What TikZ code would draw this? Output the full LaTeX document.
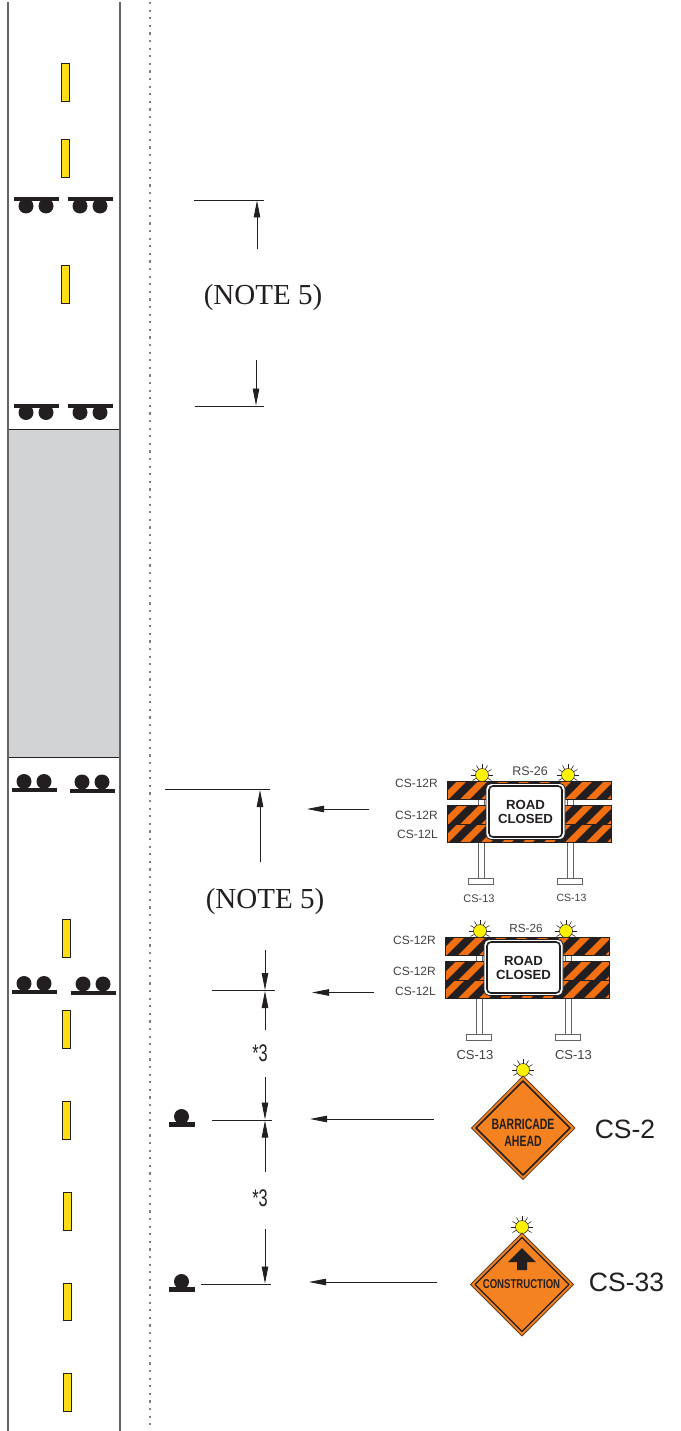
\documentclass[tikz,border=0pt]{standalone}
\usepackage{fontspec}
\setmainfont{Liberation Sans}
\newfontfamily\serifnote{Liberation Serif}
\usetikzlibrary{arrows.meta,calc}
\definecolor{roadline}{HTML}{636466}
\definecolor{dotline}{HTML}{808285}
\definecolor{dashyellow}{HTML}{FFDD15}
\definecolor{sgray}{HTML}{D1D3D4}
\definecolor{signorange}{HTML}{F58220}
\definecolor{barorange}{HTML}{F26F12}
\definecolor{ink}{HTML}{231F20}
\definecolor{lamp}{HTML}{FFF200}
\newcommand{\fsz}[1]{\fontsize{#1}{#1}\selectfont}
\tikzset{
  roadedge/.style={draw=roadline,line width=1.3pt},
  shoulder/.style={draw=dotline,line width=1.3pt,dash pattern=on 2.2pt off 5.4pt},
  yellowdash/.style={draw=ink,fill=dashyellow,line width=0.8pt},
  devbar/.style={fill=ink,draw=none},
  devdot/.style={fill=ink,draw=none},
  dimline/.style={draw=ink,line width=0.8pt},
  dimarrow/.style={draw=ink,line width=0.8pt,-{Triangle[length=17pt,width=6.5pt]}},
  note/.style={font=\serifnote\fsz{29},inner sep=0pt,text=ink},
  star/.style={font=\fsz{24},xscale=0.68,inner sep=0pt,text=ink,transform shape},
  small/.style={inner sep=0pt,text=ink!85},
  signname/.style={font=\fsz{26.5},inner sep=0pt,text=ink},
}
% horizontal barrier board with diagonal stripes: x1,y1,x2,y2
\newcommand{\board}[4]{%
  \fill[barorange] (#1,#2) rectangle (#3,#4);
  \begin{scope}
    \clip (#1,#2) rectangle (#3,#4);
    \foreach \k in {-2,...,9} {
      \fill[ink] ({#1+\k*21+2},#4) -- ({#1+\k*21+13},#4) -- ({#1+\k*21+13+(#4-#2)},#2) -- ({#1+\k*21+2+(#4-#2)},#2) -- cycle;
    }
  \end{scope}
  \draw[ink,line width=0.8pt] (#1,#2) rectangle (#3,#4);
}
% warning lamp at x,y
\newcommand{\lampat}[2]{%
  \foreach \a in {30,0,-30,-60,-90,-120,-150,180,150} {
    \draw[ink,line width=0.55pt] ($(#1,#2)+(\a:6)$) -- ($(#1,#2)+(\a:11)$);
  }
  \fill[lamp,draw=ink,line width=0.5pt] (#1,#2) circle[radius=6.5pt];
}
% barricade assembly with offset
\newcommand{\barricade}[2]{%
  \begin{scope}[shift={(#1,#2)}]
    \foreach \px in {478,567} {
      \fill[white,draw=roadline,line width=0.8pt] (\px,799) rectangle ++(6,79);
    }
    \fill[white,draw=roadline,line width=0.8pt] (468,878) rectangle (493,884);
    \fill[white,draw=roadline,line width=0.8pt] (557.5,878) rectangle (582.5,884);
    \board{447}{781}{611}{799}
    \board{447}{805}{611}{824}
    \board{447}{824}{611}{842}
    \fill[white,draw=ink,line width=0.8pt,rounded corners=5pt] (486,783.5) rectangle (565,839.5);
    \draw[ink,line width=1.6pt,rounded corners=4pt] (489,786) rectangle (562,837);
    \node[inner sep=0pt,align=center,font=\bfseries\fsz{13.2},text=ink] (roadclosed#1) at (525.5,812) {ROAD\\[1.5pt]CLOSED};
    \lampat{482}{775}
    \lampat{568}{775}
  \end{scope}
}
\begin{document}
\begin{tikzpicture}[x=1pt,y=-1pt]
\useasboundingbox (0,0) rectangle (680,1431);
\fill[white] (0,0) rectangle (680,1431);

% road
\fill[sgray] (8,429) rectangle (120,757);
\draw[ink,line width=1pt] (8,429) rectangle (120,757);
\draw[roadedge] (8,2) -- (8,1431);
\draw[roadedge] (120,2) -- (120,1431);
\draw[shoulder] (150,2) -- (150,1431);

% yellow dashes
\foreach \dx/\dy/\dh in {61/63/38,61/139/38,61/265/38,62/919/38,62/1010/38,62.5/1101/38,63/1192/38,63/1283/37,63.5/1373/38} {
  \draw[yellowdash] (\dx,\dy) rectangle ++(8,\dh);
}

% top device groups (bar above lamps)
\foreach \gy in {197,403.5} {
  \fill[devbar] (14,\gy) rectangle ++(45,4);
  \fill[devbar] (68,\gy) rectangle ++(45,4);
  \foreach \cx in {26,46,80,100} {
    \fill[devdot] (\cx,\gy+9) circle[radius=7.5pt];
  }
}
% lower device groups (bar below lamps)
\foreach \bx/\gy in {12/788,70/788.5,12/990,71/990.5} {
  \fill[devbar] (\bx,\gy) rectangle ++(45,4);
  \fill[devdot] (\bx+12,\gy-6.5) circle[radius=7.5pt];
  \fill[devdot] (\bx+32,\gy-6.5) circle[radius=7.5pt];
}
% single devices
\foreach \gy in {1122,1287} {
  \fill[devbar] (169,\gy) rectangle ++(26,5);
  \fill[devdot] (181.5,\gy-5.5) circle[radius=7.5pt];
}

% extension lines
\coordinate (e1a) at (194,200);  \coordinate (e1b) at (264,200);
\coordinate (e2a) at (195,406);  \coordinate (e2b) at (264,406);
\coordinate (e3a) at (165,789.5);\coordinate (e3b) at (270,789.5);
\coordinate (e4a) at (212,990.5);\coordinate (e4b) at (275,990.5);
\coordinate (e5a) at (212,1120); \coordinate (e5b) at (272,1120);
\coordinate (e6a) at (201,1284); \coordinate (e6b) at (271,1284);
\foreach \i in {1,...,6} { \draw[dimline] (e\i a) -- (e\i b); }

% dimension arrows
\coordinate (d1) at (257,249);  \coordinate (d1t) at (257,200.5);
\coordinate (d2) at (256,360);  \coordinate (d2t) at (256,405.5);
\coordinate (d3) at (260,862);  \coordinate (d3t) at (260,790);
\coordinate (d4) at (265,950);  \coordinate (d4t) at (265,990);
\coordinate (d5) at (265,1030); \coordinate (d5t) at (265,991);
\coordinate (d6) at (265,1077); \coordinate (d6t) at (265,1119.5);
\coordinate (d7) at (265,1172); \coordinate (d7t) at (265,1120.5);
\coordinate (d8) at (265,1229); \coordinate (d8t) at (265,1283.5);
\foreach \i in {1,...,8} { \draw[dimarrow] (d\i) -- (d\i t); }

% pointer arrows
\coordinate (p1) at (369,809);  \coordinate (p1t) at (307,809);
\coordinate (p2) at (374,992.5);\coordinate (p2t) at (312,992.5);
\coordinate (p3) at (434,1119); \coordinate (p3t) at (310,1119);
\coordinate (p4) at (437,1282); \coordinate (p4t) at (309,1282);
\foreach \i in {1,...,4} { \draw[dimarrow] (p\i) -- (p\i t); }

% notes
\node[note] (n1) at (263,298) {(NOTE 5)};
\node[note] (n2) at (265,902) {(NOTE 5)};
\node[star] (s1) at (260,1053) {*3};
\node[star] (s2) at (260,1198) {*3};

% barricades
\barricade{0}{0}
\barricade{-2}{156}

% barricade labels
\node[small,font=\fsz{12},anchor=east] (l1) at (438,783) {CS-12R};
\node[small,font=\fsz{12},anchor=east] (l2) at (438,815) {CS-12R};
\node[small,font=\fsz{12},anchor=east] (l3) at (438,834) {CS-12L};
\node[small,font=\fsz{12.5}] (l4) at (530,771.5) {RS-26};
\node[small,font=\fsz{11}] (l5) at (479,899) {CS-13};
\node[small,font=\fsz{10.5}] (l6) at (571.5,898) {CS-13};
\node[small,font=\fsz{12},anchor=east] (l7) at (436,940.5) {CS-12R};
\node[small,font=\fsz{12},anchor=east] (l8) at (436,971) {CS-12R};
\node[small,font=\fsz{12},anchor=east] (l9) at (436,991.5) {CS-12L};
\node[small,font=\fsz{11.7}] (l10) at (526,928) {RS-26};
\node[small,font=\fsz{13}] (l11) at (475,1055) {CS-13};
\node[small,font=\fsz{13}] (l12) at (573.5,1055) {CS-13};

% CS-2 sign
\lampat{523}{1070}
\draw[fill=signorange,draw=ink!70!signorange,line width=0.8pt,line join=round] (523,1076) -- (575,1128) -- (523,1179.5) -- (471.5,1128) -- cycle;
\draw[draw=ink,line width=1.7pt,line join=round] (523,1081) -- (570,1128) -- (523,1175) -- (476,1128) -- cycle;
\node[font=\bfseries\fsz{15},xscale=0.7,transform shape,inner sep=0pt,text=ink] (bar) at (523,1124) {BARRICADE};
\node[font=\bfseries\fsz{15},xscale=0.7,transform shape,inner sep=0pt,text=ink] (ahe) at (523,1141.5) {AHEAD};
\node[signname] (cs2) at (625,1129) {CS-2};

% CS-33 sign
\lampat{522}{1227}
\draw[fill=signorange,draw=ink!70!signorange,line width=0.8pt,line join=round] (522,1233) -- (573.5,1284.5) -- (522,1336) -- (470.5,1284.5) -- cycle;
\draw[draw=ink,line width=1.2pt,line join=round] (522,1237.5) -- (569,1284.5) -- (522,1331.5) -- (475,1284.5) -- cycle;
\fill[ink] (522,1248) -- (536,1262) -- (527,1262) -- (527,1270) -- (517,1270) -- (517,1262) -- (508,1262) -- cycle;
\node[font=\bfseries\fsz{12.8},xscale=0.75,transform shape,inner sep=0pt,text=ink] (con) at (521.5,1284) {CONSTRUCTION};
\node[signname] (cs33) at (626.5,1282) {CS-33};
\end{tikzpicture}
\end{document}
